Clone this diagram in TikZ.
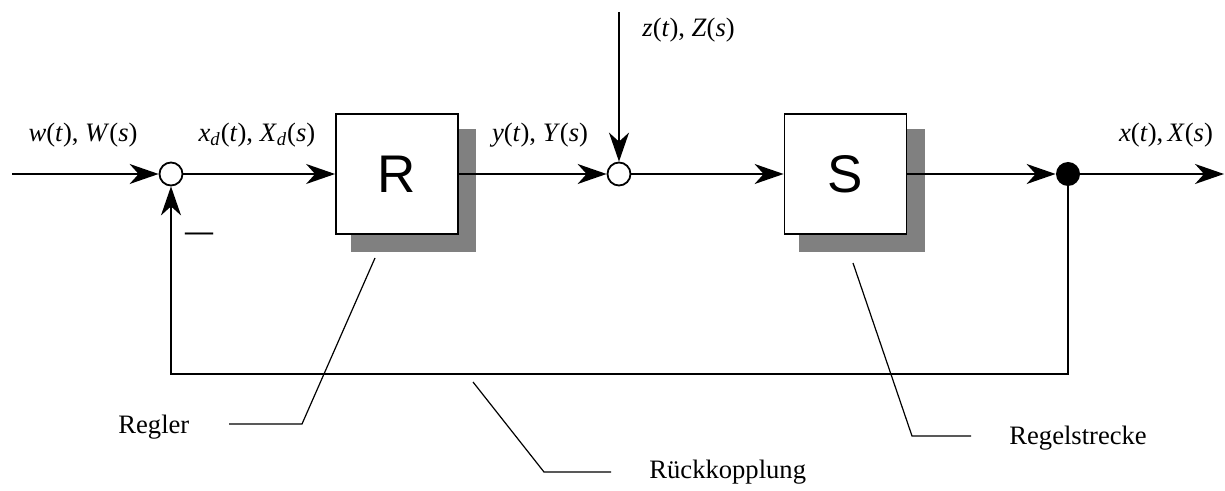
\documentclass[tikz,border=0pt]{standalone}
\usepackage{fontspec}
\setmainfont{Liberation Serif}
\newfontfamily\blockfont{Liberation Sans}
\usepackage{tikz}
\usetikzlibrary{arrows.meta,positioning,shadows}

\begin{document}
\begin{tikzpicture}[x=0.5pt,y=-0.5pt,>={Stealth[length=14.5pt,width=10pt,inset=4.5pt]},
  block/.style={draw,line width=0.9pt,fill=white,minimum width=61pt,minimum height=60pt,inner sep=0pt,
    font=\blockfont\fontsize{26.5}{30}\selectfont,
    drop shadow={shadow xshift=8pt,shadow yshift=-8pt,shadow scale=1.03,fill=gray,opacity=1}},
  sum/.style={circle,draw,line width=0.9pt,fill=white,minimum size=11.5pt,inner sep=0pt},
  branch/.style={circle,fill=black,minimum size=12pt,inner sep=0pt},
  sig/.style={inner sep=1pt,font=\fontsize{13.3}{16}\selectfont},
  arr/.style={->,line width=0.9pt},
  lead/.style={line width=0.6pt}]
\useasboundingbox (0,0) rectangle (1225,491);
\node[sum] (sum1) at (171,174) {};
\node[block] (reg) at (397,174) {R};
\node[sum] (sum2) at (619,174) {};
\node[block] (plant) at (845.5,174) {S};
\node[branch] (split) at (1068,174) {};
\coordinate (in) at (12,174);
\coordinate (out) at (1224,174);
\coordinate (dist) at (619,12);
\coordinate (fb) at (1068,374);
\draw[arr] (in)--(sum1);
\draw[arr] (sum1)--(reg);
\draw[arr] (reg)--(sum2);
\draw[arr] (dist)--(sum2);
\draw[arr] (sum2)--(plant);
\draw[arr] (plant)--(split);
\draw[arr] (split)--(out);
\draw[arr] (split)--(fb)-|(sum1);
\node[sig] (wlab) at (83,135) {\textit{w}(\textit{t}), \textit{W}(\textit{s})};
\node[sig] (xdlab) at (257,135) {\textit{x}\textsubscript{\textit{d}}(\textit{t}), \textit{X}\textsubscript{\textit{d}}(\textit{s})};
\node[sig] (ylab) at (540,135) {\textit{y}(\textit{t}), \textit{Y}(\textit{s})};
\node[sig,anchor=west] (zlab) at (640,30) {\textit{z}(\textit{t}), \textit{Z}(\textit{s})};
\node[sig] (xlab) at (1166,135) {\textit{x}(\textit{t}),\,\textit{X}(\textit{s})};
\node[sig,anchor=base,font=\bfseries\fontsize{14}{16}\selectfont] (minus) at (199,241) {\textemdash};
\node[sig,anchor=west] (reglab) at (116,427) {Regler};
\node[sig,anchor=west] (fblab) at (647,472) {Rückkopplung};
\node[sig,anchor=west] (plantlab) at (1007,438) {Regelstrecke};
\coordinate (regtip) at (375,258);
\coordinate (regknee) at (302,424);
\coordinate (regend) at (229,424);
\coordinate (fbtip) at (473,382);
\coordinate (fbknee) at (544,472);
\coordinate (fbend) at (611,472);
\coordinate (planttip) at (853,263);
\coordinate (plantknee) at (912,436);
\coordinate (plantend) at (971,436);
\draw[lead] (regtip)--(regknee)--(regend);
\draw[lead] (fbtip)--(fbknee)--(fbend);
\draw[lead] (planttip)--(plantknee)--(plantend);
\end{tikzpicture}
\end{document}
